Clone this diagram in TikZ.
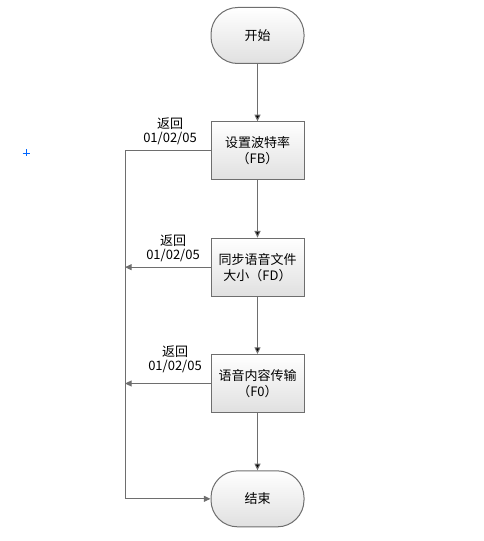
\documentclass[tikz,border=0pt]{standalone}
\usepackage{fontspec}
\newfontfamily\cjk{Noto Sans CJK SC}
\usetikzlibrary{arrows.meta,positioning}
\definecolor{linegray}{HTML}{6E6E6E}
\definecolor{boxgray}{HTML}{E0E0E0}
\tikzset{
  stepbox/.style={draw=linegray, line width=0.75pt, top color=white, bottom color=boxgray,
    minimum width=69.75pt, minimum height=43.5pt, align=center, inner sep=1pt},
  terminal/.style={stepbox, minimum height=42pt, rounded corners=20pt},
  lbl/.style={align=center, inner sep=0pt, font=\cjk\fontsize{9.75}{10.5}\selectfont}
}

\begin{document}
\begin{tikzpicture}[x=0.75pt, y=-0.75pt, node distance=43pt,
  font=\cjk\fontsize{9.75}{12}\selectfont,
  >={Triangle[length=5pt,width=4.5pt]}, line width=0.75pt]
\useasboundingbox (0,0) rectangle (484,541);
\node[terminal] (S) at (257.5,35.5) {开始};
\node[stepbox,below=of S] (FB) {设置波特率\\（FB）};
\node[stepbox,below=of FB] (FD) {同步语音文件\\大小（FD）};
\node[stepbox,below=of FD] (FO) {语音内容传输\\（F0）};
\node[terminal,below=of FO] (E) {结束};
\coordinate (lane) at (125,0);
\path[->,draw=linegray] (S) edge (FB) (FB) edge (FD) (FD) edge (FO) (FO) edge (E);
\draw[->,linegray] (FB.west) -| (lane |- E.west) -- (E.west);
\draw[->,linegray] (FD.west) -- (lane |- FD.west);
\draw[->,linegray] (FO.west) -- (lane |- FO.west);
% return labels
\node[lbl] (R1) at (170,131.5) {返回\\01/02/05};
\node[lbl] (R2) at (173,248) {返回\\01/02/05};
\node[lbl] (R3) at (175,359.5) {返回\\01/02/05};
\draw[blue!60!cyan, line width=0.6pt] (22.5,153) -- (29.5,153) (26,149.5) -- (26,156.5);
\end{tikzpicture}
\end{document}
